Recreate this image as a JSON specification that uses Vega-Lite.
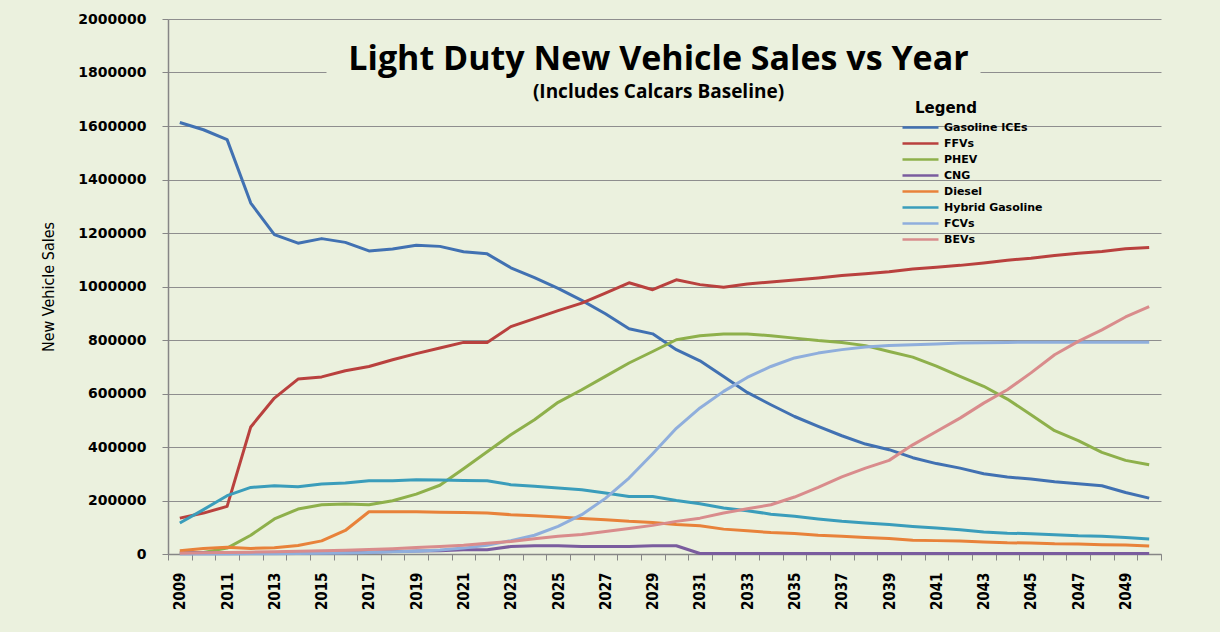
{
  "$schema": "https://vega.github.io/schema/vega-lite/v6.json",
  "width": 993,
  "height": 535,
  "autosize": {"type": "none"},
  "padding": {"left": 168, "top": 19, "right": 59, "bottom": 78},
  "background": "#EBF1DE",
  "title": {
    "text": "Light Duty New Vehicle Sales vs Year",
    "subtitle": "(Includes Calcars Baseline)",
    "anchor": "middle",
    "frame": "group",
    "offset": -90,
    "dx": -6,
    "font": "Open Sans",
    "fontSize": 34,
    "fontWeight": "bold",
    "color": "#000000",
    "subtitleFont": "Open Sans",
    "subtitleFontSize": 19,
    "subtitleFontWeight": "bold",
    "subtitleColor": "#000000",
    "subtitlePadding": 6
  },
  "config": {"view": {"stroke": null}},
  "data": {
    "values": [
      {"year": 2009, "Gasoline ICEs": 1613000, "FFVs": 134000, "PHEV": 4000, "CNG": 5000, "Diesel": 12000, "Hybrid Gasoline": 116000, "FCVs": 0, "BEVs": 3000},
      {"year": 2010, "Gasoline ICEs": 1586000, "FFVs": 153000, "PHEV": 6000, "CNG": 5000, "Diesel": 21000, "Hybrid Gasoline": 166000, "FCVs": 0, "BEVs": 5000},
      {"year": 2011, "Gasoline ICEs": 1549000, "FFVs": 178000, "PHEV": 22000, "CNG": 5000, "Diesel": 25000, "Hybrid Gasoline": 218000, "FCVs": 0, "BEVs": 6000},
      {"year": 2012, "Gasoline ICEs": 1312000, "FFVs": 475000, "PHEV": 70000, "CNG": 5000, "Diesel": 21000, "Hybrid Gasoline": 249000, "FCVs": 1000, "BEVs": 7000},
      {"year": 2013, "Gasoline ICEs": 1194000, "FFVs": 583000, "PHEV": 131000, "CNG": 5000, "Diesel": 23000, "Hybrid Gasoline": 255000, "FCVs": 1000, "BEVs": 8000},
      {"year": 2014, "Gasoline ICEs": 1162000, "FFVs": 654000, "PHEV": 168000, "CNG": 5000, "Diesel": 32000, "Hybrid Gasoline": 251000, "FCVs": 2000, "BEVs": 10000},
      {"year": 2015, "Gasoline ICEs": 1179000, "FFVs": 662000, "PHEV": 184000, "CNG": 5000, "Diesel": 49000, "Hybrid Gasoline": 262000, "FCVs": 3000, "BEVs": 12000},
      {"year": 2016, "Gasoline ICEs": 1165000, "FFVs": 685000, "PHEV": 187000, "CNG": 5000, "Diesel": 88000, "Hybrid Gasoline": 265000, "FCVs": 4000, "BEVs": 14000},
      {"year": 2017, "Gasoline ICEs": 1133000, "FFVs": 701000, "PHEV": 184000, "CNG": 7000, "Diesel": 158000, "Hybrid Gasoline": 274000, "FCVs": 6000, "BEVs": 17000},
      {"year": 2018, "Gasoline ICEs": 1140000, "FFVs": 726000, "PHEV": 199000, "CNG": 9000, "Diesel": 158000, "Hybrid Gasoline": 274000, "FCVs": 8000, "BEVs": 20000},
      {"year": 2019, "Gasoline ICEs": 1154000, "FFVs": 749000, "PHEV": 224000, "CNG": 11000, "Diesel": 158000, "Hybrid Gasoline": 278000, "FCVs": 10000, "BEVs": 24000},
      {"year": 2020, "Gasoline ICEs": 1150000, "FFVs": 770000, "PHEV": 257000, "CNG": 12000, "Diesel": 156000, "Hybrid Gasoline": 277000, "FCVs": 15000, "BEVs": 28000},
      {"year": 2021, "Gasoline ICEs": 1130000, "FFVs": 791000, "PHEV": 319000, "CNG": 16000, "Diesel": 155000, "Hybrid Gasoline": 275000, "FCVs": 22000, "BEVs": 33000},
      {"year": 2022, "Gasoline ICEs": 1122000, "FFVs": 791000, "PHEV": 382000, "CNG": 16000, "Diesel": 153000, "Hybrid Gasoline": 274000, "FCVs": 33000, "BEVs": 40000},
      {"year": 2023, "Gasoline ICEs": 1070000, "FFVs": 850000, "PHEV": 446000, "CNG": 28000, "Diesel": 147000, "Hybrid Gasoline": 259000, "FCVs": 50000, "BEVs": 47000},
      {"year": 2024, "Gasoline ICEs": 1033000, "FFVs": 880000, "PHEV": 502000, "CNG": 31000, "Diesel": 143000, "Hybrid Gasoline": 253000, "FCVs": 70000, "BEVs": 57000},
      {"year": 2025, "Gasoline ICEs": 993000, "FFVs": 910000, "PHEV": 567000, "CNG": 31000, "Diesel": 138000, "Hybrid Gasoline": 247000, "FCVs": 103000, "BEVs": 66000},
      {"year": 2026, "Gasoline ICEs": 948000, "FFVs": 938000, "PHEV": 614000, "CNG": 28000, "Diesel": 133000, "Hybrid Gasoline": 240000, "FCVs": 147000, "BEVs": 73000},
      {"year": 2027, "Gasoline ICEs": 898000, "FFVs": 975000, "PHEV": 664000, "CNG": 28000, "Diesel": 128000, "Hybrid Gasoline": 228000, "FCVs": 208000, "BEVs": 84000},
      {"year": 2028, "Gasoline ICEs": 842000, "FFVs": 1014000, "PHEV": 714000, "CNG": 28000, "Diesel": 122000, "Hybrid Gasoline": 215000, "FCVs": 284000, "BEVs": 95000},
      {"year": 2029, "Gasoline ICEs": 823000, "FFVs": 988000, "PHEV": 757000, "CNG": 31000, "Diesel": 118000, "Hybrid Gasoline": 215000, "FCVs": 375000, "BEVs": 107000},
      {"year": 2030, "Gasoline ICEs": 764000, "FFVs": 1025000, "PHEV": 801000, "CNG": 31000, "Diesel": 110000, "Hybrid Gasoline": 200000, "FCVs": 470000, "BEVs": 122000},
      {"year": 2031, "Gasoline ICEs": 722000, "FFVs": 1007000, "PHEV": 816000, "CNG": 2000, "Diesel": 106000, "Hybrid Gasoline": 188000, "FCVs": 546000, "BEVs": 134000},
      {"year": 2032, "Gasoline ICEs": 664000, "FFVs": 997000, "PHEV": 822000, "CNG": 2000, "Diesel": 93000, "Hybrid Gasoline": 172000, "FCVs": 608000, "BEVs": 153000},
      {"year": 2033, "Gasoline ICEs": 604000, "FFVs": 1009000, "PHEV": 822000, "CNG": 2000, "Diesel": 87000, "Hybrid Gasoline": 162000, "FCVs": 660000, "BEVs": 169000},
      {"year": 2034, "Gasoline ICEs": 558000, "FFVs": 1017000, "PHEV": 816000, "CNG": 2000, "Diesel": 80000, "Hybrid Gasoline": 149000, "FCVs": 701000, "BEVs": 184000},
      {"year": 2035, "Gasoline ICEs": 514000, "FFVs": 1024000, "PHEV": 807000, "CNG": 2000, "Diesel": 77000, "Hybrid Gasoline": 141000, "FCVs": 733000, "BEVs": 213000},
      {"year": 2036, "Gasoline ICEs": 477000, "FFVs": 1032000, "PHEV": 798000, "CNG": 2000, "Diesel": 70000, "Hybrid Gasoline": 131000, "FCVs": 751000, "BEVs": 249000},
      {"year": 2037, "Gasoline ICEs": 442000, "FFVs": 1041000, "PHEV": 791000, "CNG": 2000, "Diesel": 66000, "Hybrid Gasoline": 122000, "FCVs": 764000, "BEVs": 288000},
      {"year": 2038, "Gasoline ICEs": 411000, "FFVs": 1048000, "PHEV": 779000, "CNG": 2000, "Diesel": 62000, "Hybrid Gasoline": 116000, "FCVs": 774000, "BEVs": 321000},
      {"year": 2039, "Gasoline ICEs": 390000, "FFVs": 1055000, "PHEV": 757000, "CNG": 2000, "Diesel": 58000, "Hybrid Gasoline": 110000, "FCVs": 779000, "BEVs": 350000},
      {"year": 2040, "Gasoline ICEs": 360000, "FFVs": 1065000, "PHEV": 736000, "CNG": 2000, "Diesel": 51000, "Hybrid Gasoline": 103000, "FCVs": 782000, "BEVs": 408000},
      {"year": 2041, "Gasoline ICEs": 338000, "FFVs": 1072000, "PHEV": 702000, "CNG": 2000, "Diesel": 50000, "Hybrid Gasoline": 97000, "FCVs": 785000, "BEVs": 458000},
      {"year": 2042, "Gasoline ICEs": 321000, "FFVs": 1079000, "PHEV": 664000, "CNG": 2000, "Diesel": 49000, "Hybrid Gasoline": 91000, "FCVs": 789000, "BEVs": 508000},
      {"year": 2043, "Gasoline ICEs": 300000, "FFVs": 1088000, "PHEV": 627000, "CNG": 2000, "Diesel": 45000, "Hybrid Gasoline": 82000, "FCVs": 790000, "BEVs": 564000},
      {"year": 2044, "Gasoline ICEs": 288000, "FFVs": 1098000, "PHEV": 579000, "CNG": 2000, "Diesel": 42000, "Hybrid Gasoline": 78000, "FCVs": 791000, "BEVs": 614000},
      {"year": 2045, "Gasoline ICEs": 280000, "FFVs": 1106000, "PHEV": 521000, "CNG": 2000, "Diesel": 41000, "Hybrid Gasoline": 76000, "FCVs": 792000, "BEVs": 677000},
      {"year": 2046, "Gasoline ICEs": 270000, "FFVs": 1116000, "PHEV": 461000, "CNG": 2000, "Diesel": 38000, "Hybrid Gasoline": 72000, "FCVs": 792000, "BEVs": 745000},
      {"year": 2047, "Gasoline ICEs": 263000, "FFVs": 1124000, "PHEV": 424000, "CNG": 2000, "Diesel": 37000, "Hybrid Gasoline": 68000, "FCVs": 792000, "BEVs": 795000},
      {"year": 2048, "Gasoline ICEs": 255000, "FFVs": 1131000, "PHEV": 380000, "CNG": 2000, "Diesel": 35000, "Hybrid Gasoline": 66000, "FCVs": 792000, "BEVs": 838000},
      {"year": 2049, "Gasoline ICEs": 230000, "FFVs": 1141000, "PHEV": 350000, "CNG": 2000, "Diesel": 34000, "Hybrid Gasoline": 62000, "FCVs": 792000, "BEVs": 886000},
      {"year": 2050, "Gasoline ICEs": 209000, "FFVs": 1146000, "PHEV": 334000, "CNG": 2000, "Diesel": 30000, "Hybrid Gasoline": 56000, "FCVs": 792000, "BEVs": 925000}
    ]
  },
  "transform": [
    {"fold": ["Gasoline ICEs", "FFVs", "PHEV", "CNG", "Diesel", "Hybrid Gasoline", "FCVs", "BEVs"], "as": ["type", "sales"]}
  ],
  "mark": {"type": "line", "strokeWidth": 3, "strokeJoin": "round"},
  "encoding": {
    "x": {
      "field": "year",
      "type": "ordinal",
      "bandPosition": 0.5,
      "scale": {"type": "band", "paddingInner": 0, "paddingOuter": 0},
      "axis": {
        "title": null,
        "tickBand": "extent",
        "grid": false,
        "labelAngle": -90,
        "labelExpr": "datum.value % 2 == 1 ? datum.label : ''",
        "labelOverlap": false,
        "labelFont": "Liberation Sans Narrow, DejaVu Sans Condensed, sans-serif",
        "labelFontSize": 15,
        "labelFontWeight": "bold",
        "labelColor": "#000000",
        "labelPadding": 12,
        "tickSize": 6,
        "tickColor": "#868686",
        "domainColor": "#868686",
        "domainWidth": 1.5
      }
    },
    "y": {
      "field": "sales",
      "type": "quantitative",
      "scale": {"domain": [0, 2000000], "nice": false},
      "axis": {
        "title": "New Vehicle Sales",
        "titleFont": "Liberation Sans Narrow, DejaVu Sans Condensed, sans-serif",
        "titleFontSize": 16,
        "titleFontWeight": "normal",
        "titleColor": "#000000",
        "titlePadding": 21,
        "values": [0, 200000, 400000, 600000, 800000, 1000000, 1200000, 1400000, 1600000, 1800000, 2000000],
        "format": "d",
        "labelFont": "DejaVu Sans",
        "labelFontSize": 14,
        "labelFontWeight": "bold",
        "labelColor": "#000000",
        "labelPadding": 16,
        "tickSize": 6,
        "tickColor": "#868686",
        "domainColor": "#868686",
        "domainWidth": 1.5,
        "gridColor": "#8E8E8E",
        "gridOpacity": 1,
        "gridDash": {"condition": {"test": "datum.value === 1800000", "value": [158, 654, 400]}, "value": []}
      }
    },
    "color": {
      "field": "type",
      "type": "nominal",
      "sort": ["Gasoline ICEs", "FFVs", "PHEV", "CNG", "Diesel", "Hybrid Gasoline", "FCVs", "BEVs"],
      "scale": {
        "domain": ["Gasoline ICEs", "FFVs", "PHEV", "CNG", "Diesel", "Hybrid Gasoline", "FCVs", "BEVs"],
        "range": ["#4171B2", "#B9413E", "#8EB04B", "#7A5C9E", "#E8823A", "#3A9DBB", "#8FAEDC", "#D98C8C"]
      },
      "legend": {
        "orient": "none",
        "legendX": 743,
        "legendY": 82,
        "title": "Legend",
        "titleFont": "DejaVu Sans",
        "titleFontSize": 15,
        "titleFontWeight": "bold",
        "titleColor": "#000000",
        "titleAnchor": "middle",
        "titleAlign": "right",
        "titlePadding": 2,
        "symbolType": "M-2.25,0H2.25",
        "symbolSize": 256,
        "symbolStrokeWidth": 2.5,
        "labelFont": "DejaVu Sans",
        "labelFontSize": 11,
        "labelFontWeight": "bold",
        "labelColor": "#000000",
        "labelOffset": 14,
        "labelLimit": 300,
        "rowPadding": 1,
        "padding": 0
      }
    }
  }
}
